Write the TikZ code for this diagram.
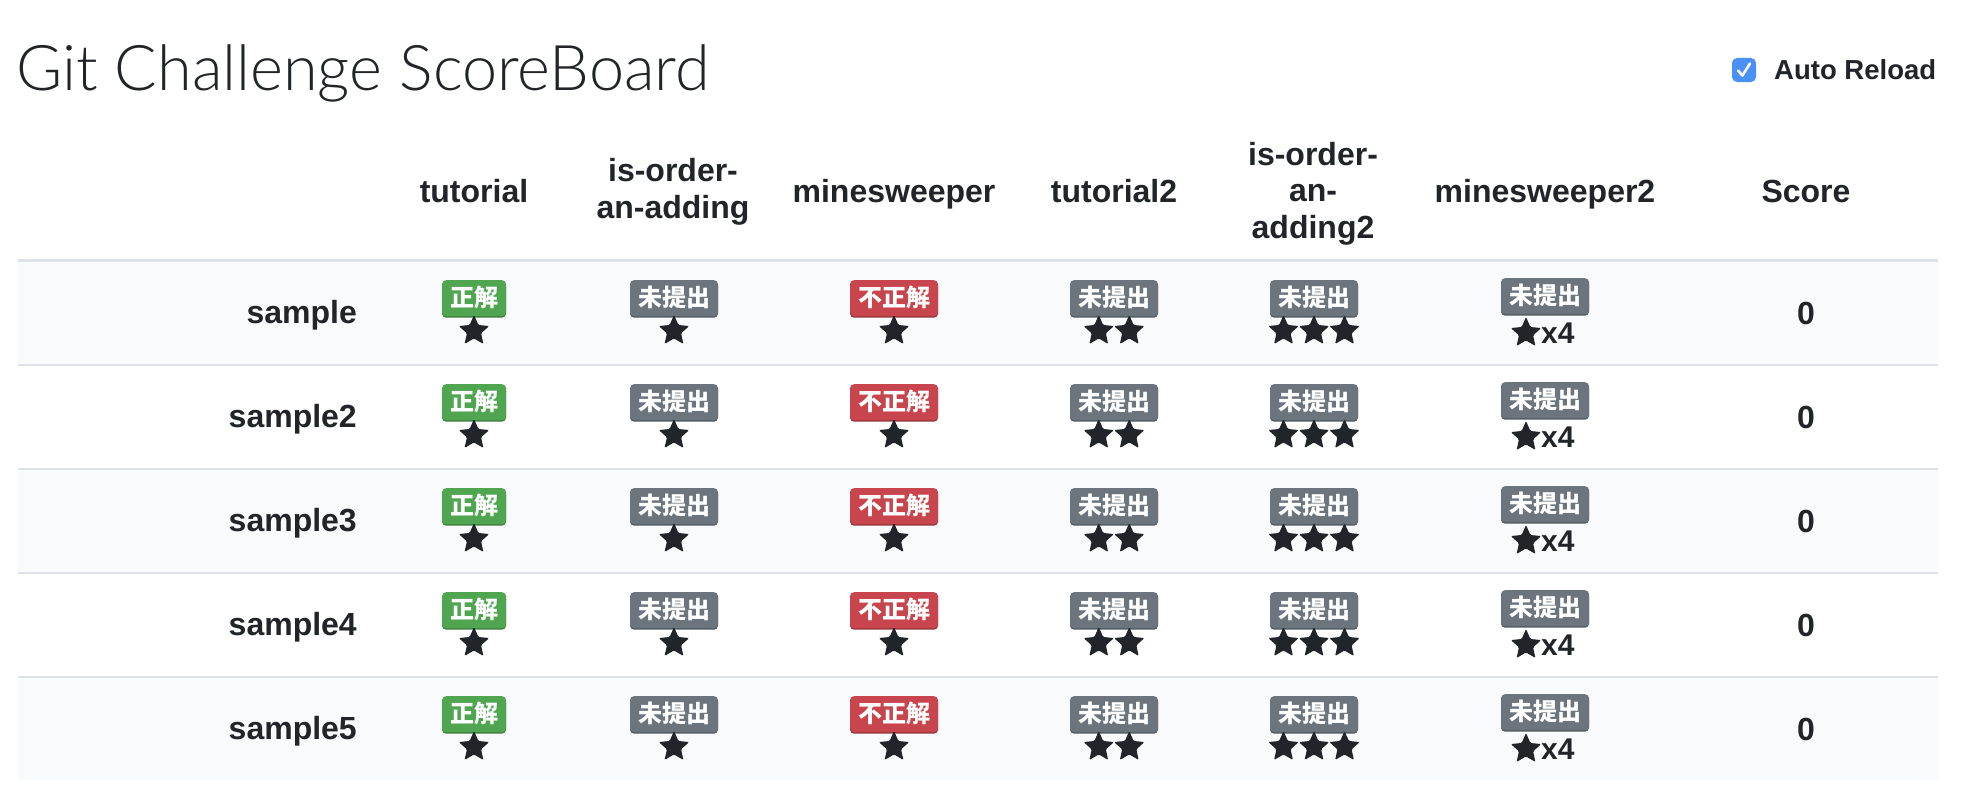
\documentclass[tikz,border=0pt]{standalone}
\usepackage{fontspec}
\setmainfont{Liberation Sans}
\newfontfamily\cjk{Noto Sans CJK JP}
\IfFontExistsTF{Lato Light}{\newfontfamily\titlefont{Lato Light}}{\newfontfamily\titlefont{Liberation Sans}}
\usetikzlibrary{shapes.geometric,shadows}
\definecolor{ink}{RGB}{33,37,41}
\definecolor{okgreen}{RGB}{80,166,80}
\definecolor{ngred}{RGB}{200,69,78}
\definecolor{nagray}{RGB}{108,117,125}
\definecolor{stripe}{RGB}{249,250,251}
\definecolor{rule}{RGB}{222,226,230}
\definecolor{cbblue}{RGB}{74,144,245}
\tikzset{
  hdr/.style={font=\bfseries\fontsize{32}{36.5}\selectfont, text=ink, inner sep=0pt, anchor=base, align=center},
  rowlbl/.style={font=\bfseries\fontsize{32}{36}\selectfont, text=ink, inner sep=0pt, anchor=base east},
  scoretxt/.style={font=\bfseries\fontsize{32}{36}\selectfont, text=ink, inner sep=0pt, anchor=base},
  badge/.style={fill=#1, rounded corners=4pt, text=white, font=\cjk\bfseries\fontsize{24}{24}\selectfont,
    inner xsep=8pt, inner ysep=0pt, minimum height=36pt, text height=20pt, text depth=4pt, anchor=north,
    general shadow={fill=#1!78!black, shadow yshift=-1.5pt}},
  starx/.style={shape=star, star points=5, star point ratio=2.15, minimum size=32pt, inner sep=0pt,
    fill=ink, rounded corners=1.2pt},
  rowline/.style={draw=rule, line width=2pt},
}
\begin{document}
\begin{tikzpicture}[x=1pt,y=-1pt]
\fill[white] (0,0) rectangle (1972,808);
\useasboundingbox (0,0) rectangle (1972,808);
% title
\node[anchor=base west, inner sep=0pt, font=\titlefont\fontsize{63}{68}\selectfont, text=ink] (title) at (16,90) {Git Challenge ScoreBoard};
% auto reload
\fill[cbblue, rounded corners=5pt] (1732,58) rectangle (1756,82);
\node[inner sep=0pt, minimum size=24pt] (cb) at (1744,70) {};
\draw[white, line width=2.6pt, line cap=round, line join=round] (1738,70.5) -- (1742.3,75.5) -- (1750,63.5);
\node[anchor=base west, inner sep=0pt, font=\bfseries\fontsize{27.5}{30}\selectfont, text=ink] (autoreload) at (1774,80) {Auto Reload};
% header
\node[hdr] (h1) at (474,202) {tutorial};
\node[hdr] (h2) at (673,218) {is-order-\\an-adding};
\node[hdr] (h3) at (894,202) {minesweeper};
\node[hdr] (h4) at (1114,202) {tutorial2};
\node[hdr] (h5) at (1313,238) {is-order-\\an-\\adding2};
\node[hdr] (h6) at (1545,202) {minesweeper2};
\node[hdr] (h7) at (1806,202) {Score};
% stripes
\foreach \r in {1,3,5} {
  \pgfmathsetmacro\T{260+104*(\r-1)}
  \fill[stripe] (18,{\T}) rectangle (1938,{\T+104});
}
\draw[draw=rule, line width=3.5pt] (18,260.5) -- (1938,260.5);
\foreach \r in {1,2,3,4} {
  \pgfmathsetmacro\T{260+104*\r}
  \draw[rowline] (18,{\T+1}) -- (1938,{\T+1});
}
% rows
\foreach \r/\nm in {1/sample,2/sample2,3/sample3,4/sample4,5/sample5} {
  \pgfmathsetmacro\T{260+104*(\r-1)}
  \node[rowlbl] (lbl\r) at (357,{\T+63}) {\nm};
  \foreach \cx/\txt/\col/\n [count=\c] in {474/正解/okgreen/1, 674/未提出/nagray/1, 894/不正解/ngred/1, 1114/未提出/nagray/2, 1314/未提出/nagray/3} {
    \node[badge=\col] (b\r-\c) at (\cx,{\T+20}) {\txt};
    \foreach \k in {1,...,\n} {
      \node[starx] (s\r-\c-\k) at ({\cx+(\k-(\n+1)/2)*30.5},{\T+71}) {};
    }
  }
  \node[badge=nagray] (b\r-6) at (1545,{\T+18}) {未提出};
  \node[starx] (s\r-6-1) at (1526,{\T+73}) {};
  \node[font=\bfseries\fontsize{30}{30}\selectfont, text=ink, inner sep=0pt, anchor=base west] (x\r) at (1541,{\T+83}) {x4};
  \node[scoretxt] (sc\r) at (1806,{\T+64}) {0};
}
\end{tikzpicture}
\end{document}
